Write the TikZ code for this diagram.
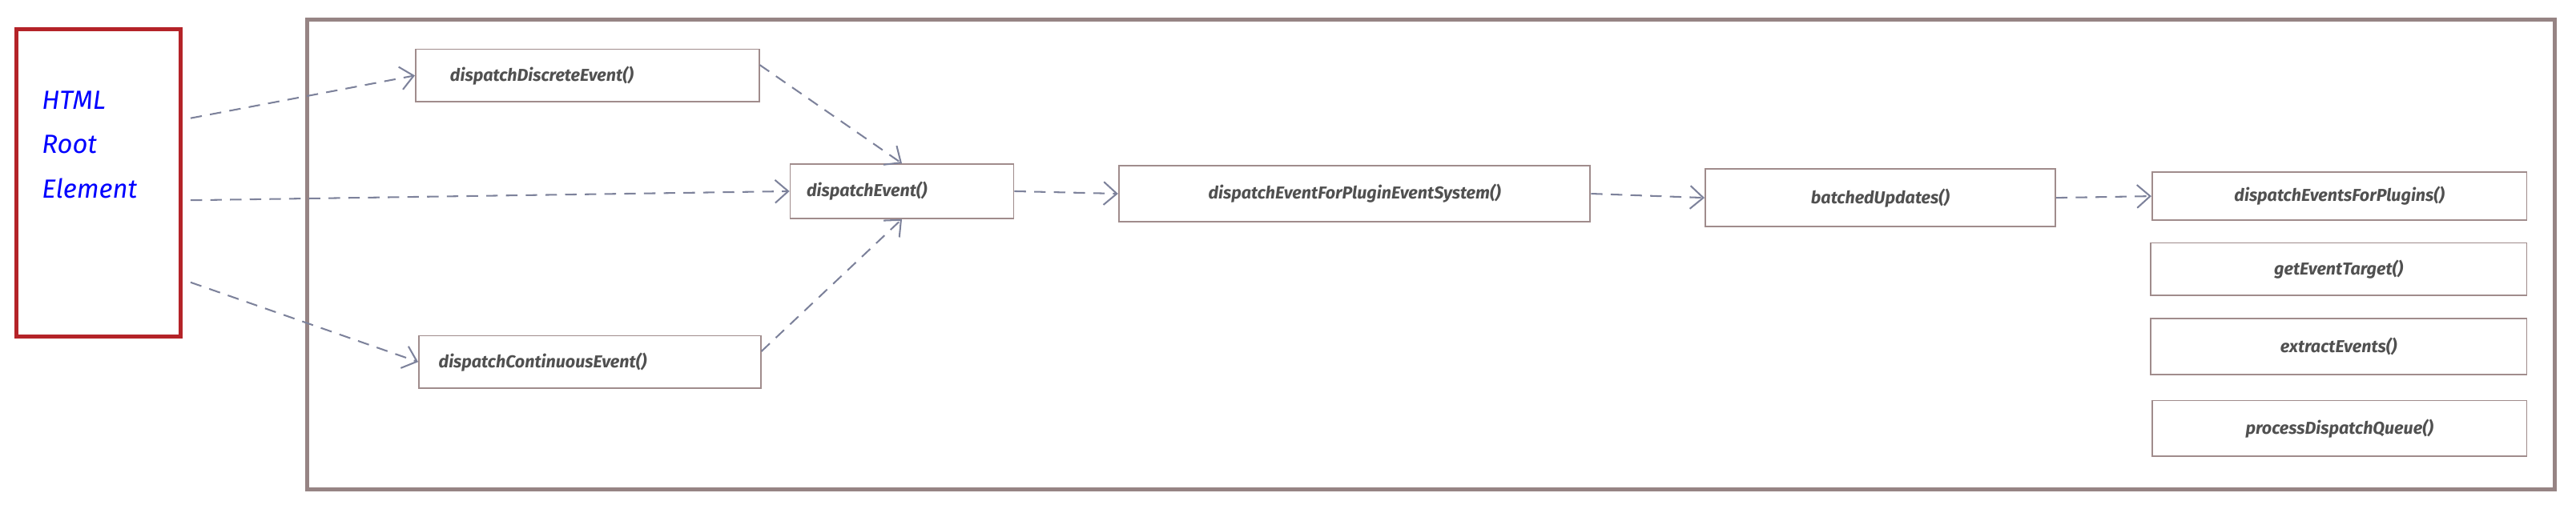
\documentclass[tikz,border=0pt]{standalone}
\usepackage{fontspec}
\setmainfont{Fira Sans}
\usepackage{tikz}
\usetikzlibrary{arrows.meta}
\definecolor{framecol}{RGB}{150,132,132}
\definecolor{boxcol}{RGB}{160,140,140}
\definecolor{flowcol}{RGB}{125,130,155}
\definecolor{rootcol}{RGB}{180,35,40}
\definecolor{textcol}{RGB}{80,80,80}
\tikzset{
  fn/.style={draw=boxcol, line width=0.9pt, minimum height=32pt, font=\fontsize{10.5}{12}\selectfont\itshape\bfseries, text=textcol, inner sep=0pt},
  leftfn/.style={fn, align=left, text width=#1, inner xsep=10pt},
  flow/.style={draw=flowcol, line width=1pt, dash pattern=on 7pt off 5pt, -{Straight Barb[length=8pt,width=14pt]}}
}
\begin{document}
\begin{tikzpicture}[x=1pt,y=-1pt]
\useasboundingbox (0,0) rectangle (1568,310);

%Outer frame
\draw[framecol, line width=2.5pt] (187,12) rectangle (1555,298);
%Root element
\draw[rootcol, line width=2.5pt] (10,18) rectangle (110,205);
\node[anchor=north west, align=left, text=blue, font=\fontsize{16}{27}\selectfont\itshape] (root) at (22,52) {HTML\\Root\\Element};
\coordinate (rootA) at (116,72);
\coordinate (rootB) at (116,122);
\coordinate (rootC) at (116,172);

% Function boxes
\node[leftfn=167pt, inner xsep=21pt] (discrete) at (357.5,46) {dispatchDiscreteEvent()};
\node[leftfn=184pt, inner xsep=12pt] (continuous) at (359,220.5) {dispatchContinuousEvent()};
\node[leftfn=116pt, minimum height=33pt] (event) at (549,116.5) {dispatchEvent()};
\node[fn, minimum width=287pt, minimum height=34pt] (plugin) at (824.5,118) {dispatchEventForPluginEventSystem()};
\node[fn, minimum width=213pt, minimum height=35pt] (batched) at (1144.5,120.5) {batchedUpdates()};
\node[fn, minimum width=228pt, minimum height=29pt] (forplugins) at (1424,119.5) {dispatchEventsForPlugins()};
\node[fn, minimum width=229pt] (target) at (1423.5,164) {getEventTarget()};
\node[fn, minimum width=229pt, minimum height=34pt] (extract) at (1423.5,211) {extractEvents()};
\node[fn, minimum width=228pt, minimum height=34pt] (queue) at (1424,261) {processDispatchQueue()};

% Flow
\draw[flow] (rootA) -- (discrete.west);
\draw[flow] (rootB) -- (event.west);
\draw[flow] (rootC) -- (continuous.west);
\draw[flow] (discrete.north east) ++(0,10) -- (event.north);
\draw[flow] (continuous.north east) ++(0,10) -- (event.south);
\draw[flow] (event.east) -- (plugin.west);
\draw[flow] (plugin.east) -- (batched.west);
\draw[flow] (batched.east) -- (forplugins.west);
\end{tikzpicture}
\end{document}
